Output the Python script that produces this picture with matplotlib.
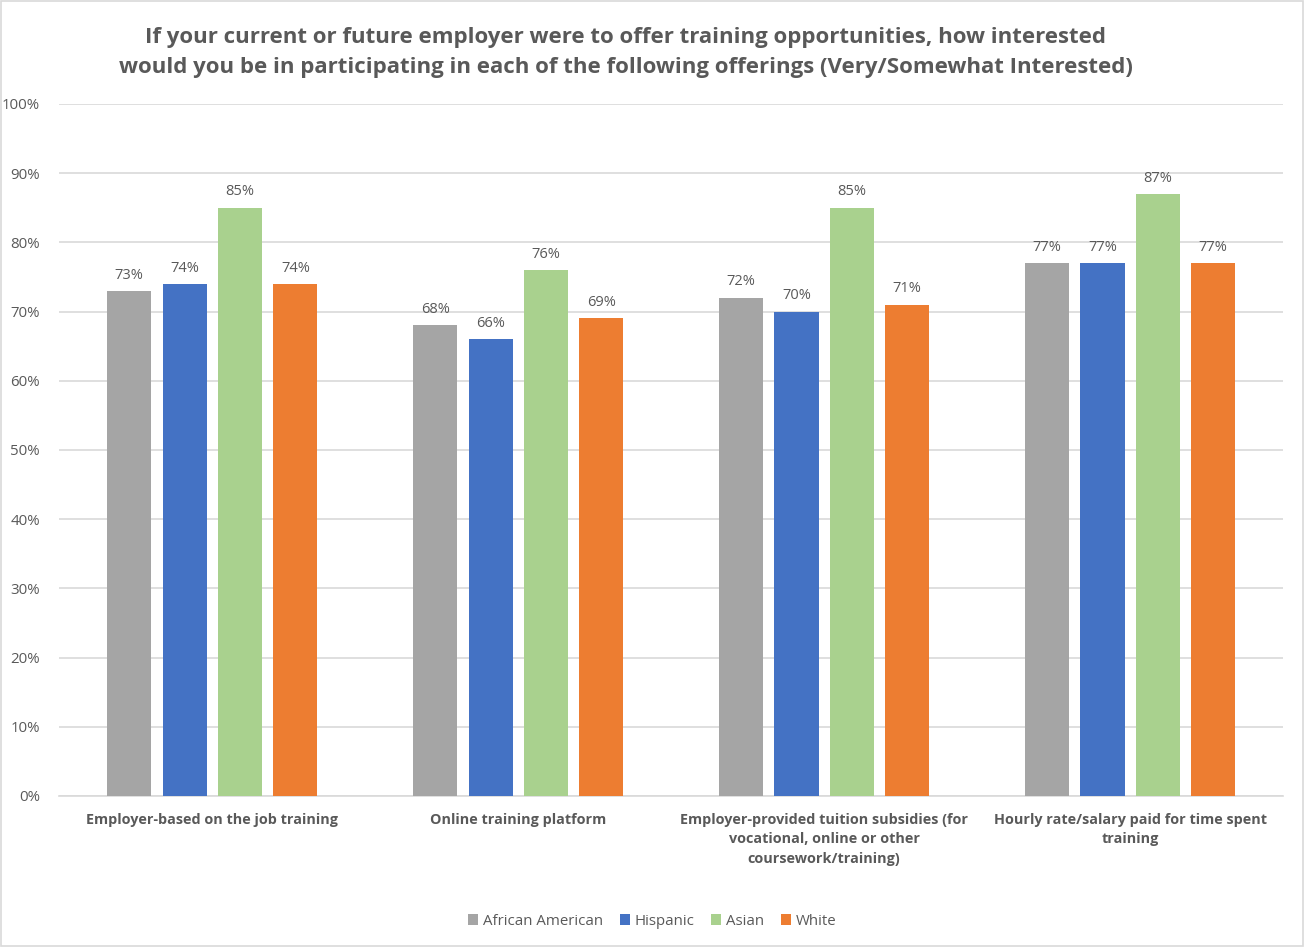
import matplotlib.pyplot as plt
import numpy as np
from matplotlib.patches import Rectangle

plt.rcParams['font.family'] = ['Open Sans', 'DejaVu Sans']

categories = [
    'Employer-based on the job training',
    'Online training platform',
    'Employer-provided tuition subsidies (for\nvocational, online or other\ncoursework/training)',
    'Hourly rate/salary paid for time spent\ntraining',
]
series_names = ['African American', 'Hispanic', 'Asian', 'White']
african_american = [73, 68, 72, 77]
hispanic = [74, 66, 70, 77]
asian = [85, 76, 85, 87]
white = [74, 69, 71, 77]
colors = ['#A5A5A5', '#4472C4', '#A9D18E', '#ED7D31']

title = ('If your current or future employer were to offer training opportunities, how interested\n'
         'would you be in participating in each of the following offerings (Very/Somewhat Interested)')

text_color = '#595959'
grid_color = '#D9D9D9'

fig = plt.figure(figsize=(13.04, 9.47), dpi=100)
ax = fig.add_axes([0.0455, 0.1595, 0.9385, 0.7307])

x = np.arange(len(categories))
step = 0.181
width = 0.144
all_series = [african_american, hispanic, asian, white]
for i, (name, vals, col) in enumerate(zip(series_names, all_series, colors)):
    pos = x + (i - 1.5) * step
    bars = ax.bar(pos, vals, width, color=col, label=name, zorder=3)
    for b, v in zip(bars, vals):
        ax.text(b.get_x() + b.get_width() / 2, v + 1.2, f'{v}%',
                ha='center', va='bottom', fontsize=10.5, color=text_color)

ax.set_xlim(-0.5, 3.5)
ax.set_ylim(0, 100)
ax.set_yticks(np.arange(0, 101, 10))
ax.set_yticklabels([f'{t}%' for t in range(0, 101, 10)])
ax.yaxis.grid(True, color=grid_color, linewidth=1.2, zorder=0)
ax.set_xticks(x)
ax.set_xticklabels(categories, fontweight='bold', fontsize=10.4, color=text_color,
                   linespacing=1.5, va='top')
ax.tick_params(axis='y', length=0, labelsize=10.8, labelcolor=text_color, pad=14)
ax.tick_params(axis='x', length=0, pad=12)
for s in ['top', 'right', 'left']:
    ax.spines[s].set_visible(False)
ax.spines['bottom'].set_color(grid_color)
ax.spines['bottom'].set_linewidth(1.2)

fig.text(0.48, 0.9445, title, ha='center', va='center', fontsize=16,
         fontweight='bold', color=text_color, linespacing=1.55)

handles, labels = ax.get_legend_handles_labels()
fig.legend(handles, labels, loc='center', bbox_to_anchor=(0.5, 0.027), ncol=4,
           frameon=False, fontsize=10.8, labelcolor=text_color, handlelength=0.7,
           handleheight=0.7, handletextpad=0.3, columnspacing=1.1)

fig.patches.append(Rectangle((0.001, 0.001), 0.998, 0.998, transform=fig.transFigure,
                             fill=False, edgecolor='#D9D9D9', linewidth=1.2))

fig.savefig('out.png', dpi=100)
